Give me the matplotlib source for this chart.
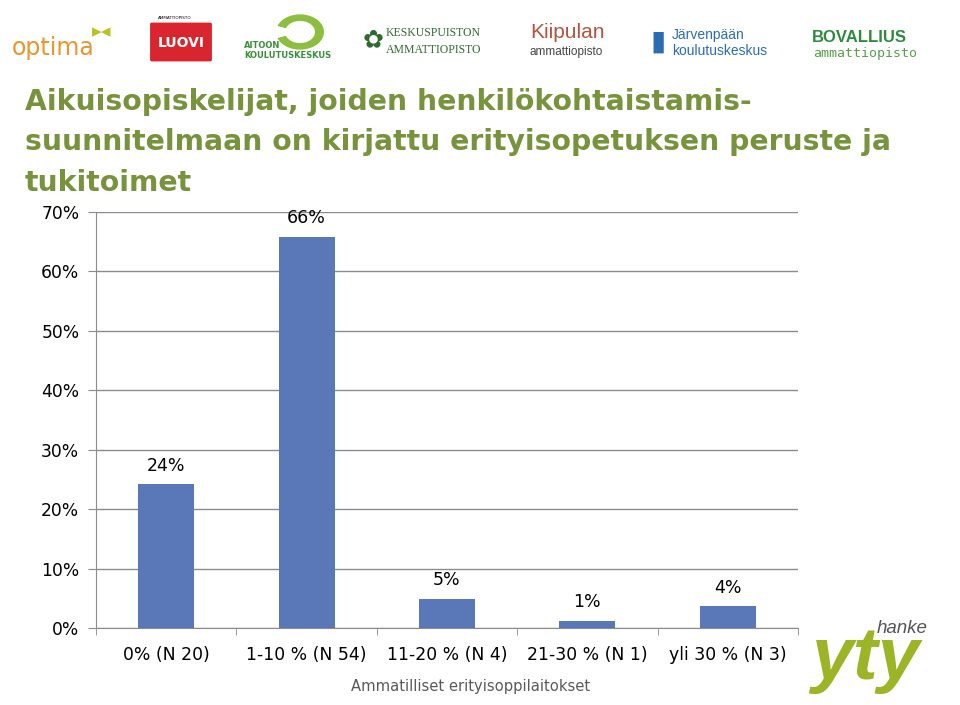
import numpy as np
import matplotlib.pyplot as plt
from matplotlib.patches import FancyBboxPatch, Wedge

# Data
categories = ['0% (N 20)', '1-10 % (N 54)', '11-20 % (N 4)', '21-30 % (N 1)', 'yli 30 % (N 3)']
values = [24.2, 65.8, 4.9, 1.2, 3.7]
value_labels = ['24%', '66%', '5%', '1%', '4%']
y_ticks = [0, 10, 20, 30, 40, 50, 60, 70]

title_lines = ['Aikuisopiskelijat, joiden henkilökohtaistamis-',
               'suunnitelmaan on kirjattu erityisopetuksen peruste ja',
               'tukitoimet']
x_title = 'Ammatilliset erityisoppilaitokset'

plt.rcParams['font.family'] = ['DejaVu Sans']

W, H = 960, 705
fig = plt.figure(figsize=(W / 100, H / 100), dpi=100)

# plot area in pixels: left 96, right 798, top 212, bottom 628
ax = fig.add_axes([96 / W, 1 - 628 / H, (798 - 96) / W, (628 - 212) / H])

x = np.arange(len(categories))
ax.bar(x, values, width=0.4, color='#5A77B8', zorder=3)
for xi, v, lab in zip(x, values, value_labels):
    ax.text(xi, v + 1.6, lab, ha='center', va='bottom', fontsize=12.5)

ax.set_xlim(-0.5, len(categories) - 0.5)
ax.set_ylim(0, 70)
ax.set_yticks(y_ticks)
ax.set_yticklabels([f'{t}%' for t in y_ticks], fontsize=12.3)
ax.yaxis.grid(True, color='#8c8c8c', linewidth=1, zorder=0)

ax.set_xticks(x)
ax.set_xticklabels(categories, fontsize=12.4)
ax.set_xticks(np.arange(len(categories) + 1) - 0.5, minor=True)
ax.tick_params(axis='x', which='major', length=0, pad=13)
ax.tick_params(axis='x', which='minor', length=5, color='#8c8c8c', direction='out')
ax.tick_params(axis='y', length=6, color='#8c8c8c', pad=6)

for side in ['top', 'right']:
    ax.spines[side].set_visible(False)
for side in ['left', 'bottom']:
    ax.spines[side].set_color('#8c8c8c')

# axis title (sits right of the axes centre in the reference)
fig.text(471 / W, 1 - 686 / H, x_title, ha='center', va='center', fontsize=10.6,
         color='#595959')

# Title, one line at a time
for line, base in zip(title_lines, [110, 150, 191]):
    fig.text(25 / W, 1 - base / H, line, ha='left', va='baseline', fontsize=20.3,
             fontweight='bold', color='#77933C')

# Logos (text approximations)
fig.text(12 / W, 1 - 48 / H, 'optima', fontsize=17, color='#E8962E', va='center')
fig.text(92 / W, 1 - 32 / H, '▸◂', fontsize=14, color='#B9C421', va='center')

box = FancyBboxPatch((152 / W, 1 - 60 / H), 58 / W, 36 / H,
                     boxstyle='round,pad=0.002', transform=fig.transFigure,
                     facecolor='#D9262E', edgecolor='none')
fig.patches.append(box)
fig.text(158 / W, 1 - 18 / H, 'AMMATTIOPISTO', fontsize=3, color='black', va='center')
fig.text(181 / W, 1 - 43 / H, 'LUOVI', fontsize=10, color='white', fontweight='bold',
         ha='center', va='center')

ring = Wedge((300 / W, 1 - 32 / H), 24 / W, 200, 520, width=9 / W,
             transform=fig.transFigure, facecolor='#8CBF3F', edgecolor='none')
fig.patches.append(ring)
fig.text(244 / W, 1 - 46 / H, 'AITOON', fontsize=6, color='#3A8F3A', fontweight='bold', va='center')
fig.text(244 / W, 1 - 55 / H, 'KOULUTUSKESKUS', fontsize=6, color='#3A8F3A', fontweight='bold', va='center')

fig.text(363 / W, 1 - 40 / H, '✿', fontsize=18, color='#2E6B2E', va='center')
fig.text(386 / W, 1 - 33 / H, 'KESKUSPUISTON', fontsize=8.5, color='#2E6B2E',
         family='Liberation Serif', va='center')
fig.text(386 / W, 1 - 50 / H, 'AMMATTIOPISTO', fontsize=8.5, color='#2E6B2E',
         family='Liberation Serif', va='center')

fig.text(530 / W, 1 - 33 / H, 'Kiipulan', fontsize=15, color='#B5533C', va='center',
         family='Liberation Sans')
fig.text(530 / W, 1 - 52 / H, 'ammattiopisto', fontsize=8.5, color='#444444', va='center',
         family='Liberation Sans')

fig.text(650 / W, 1 - 42 / H, '▮', fontsize=20, color='#2A6DB5', va='center')
fig.text(672 / W, 1 - 35 / H, 'Järvenpään', fontsize=10, color='#2A6DB5', va='center',
         family='Liberation Sans')
fig.text(672 / W, 1 - 51 / H, 'koulutuskeskus', fontsize=10, color='#2A6DB5', va='center',
         family='Liberation Sans')

fig.text(812 / W, 1 - 38 / H, 'BOVALLIUS', fontsize=12, color='#2E8B3E', fontweight='bold',
         va='center', family='Liberation Sans')
fig.text(813 / W, 1 - 54 / H, 'ammattiopisto', fontsize=9.5, color='#5AA04A',
         family='DejaVu Sans Mono', va='center')

# yty hanke logo
fig.text(811 / W, 1 - 679 / H, 'yty', fontsize=54, color='#9BB526', fontweight='bold',
         style='italic', va='baseline', family='Liberation Sans')
fig.text(877 / W, 1 - 633 / H, 'hanke', fontsize=13.5, color='#555555', style='italic',
         va='baseline', family='Liberation Sans')

fig.savefig('out.png', dpi=100, facecolor='white')
